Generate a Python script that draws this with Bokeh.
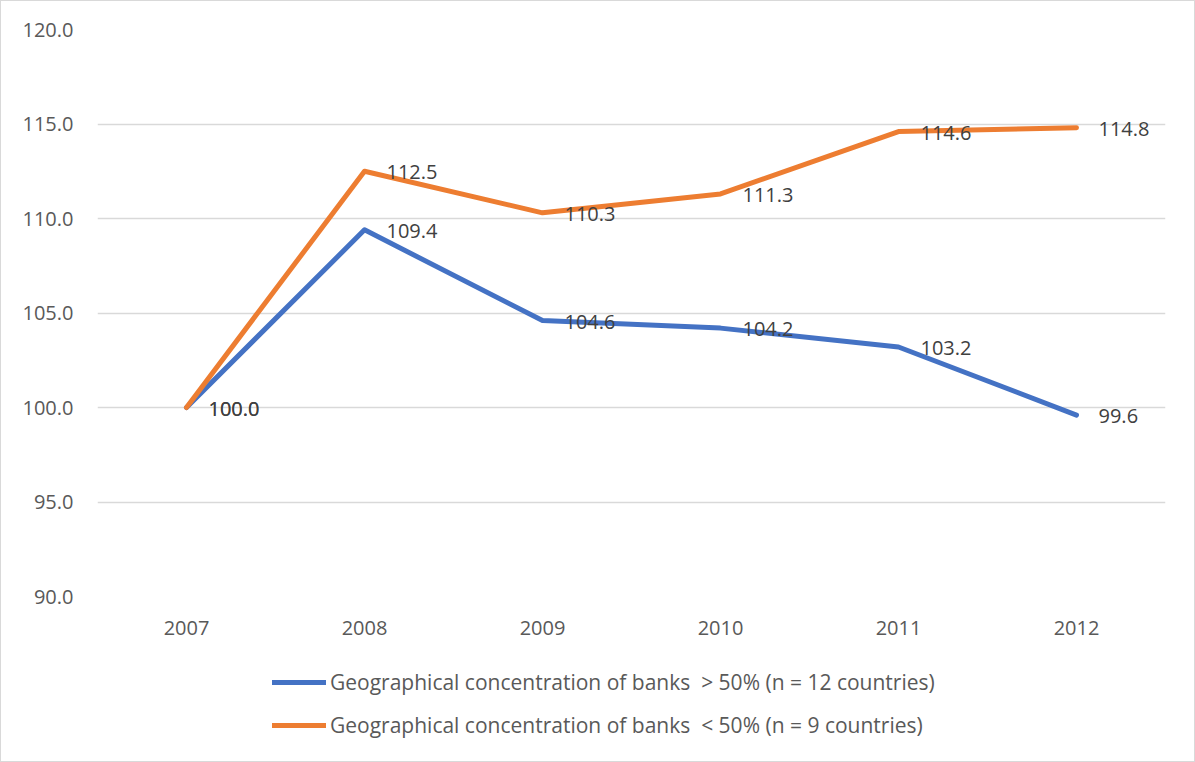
from bokeh.plotting import figure
from bokeh.layouts import column
from bokeh.models import (ColumnDataSource, FactorRange, Range1d, Legend, LegendItem,
                          SingleIntervalTicker, NumeralTickFormatter)
from bokeh.embed import file_html
from bokeh.resources import INLINE

years = ["2007", "2008", "2009", "2010", "2011", "2012"]
high_conc = [100.0, 109.4, 104.6, 104.2, 103.2, 99.6]
low_conc = [100.0, 112.5, 110.3, 111.3, 114.6, 114.8]
series_names = [
    "Geographical concentration of banks  > 50% (n = 12 countries)",
    "Geographical concentration of banks  < 50% (n = 9 countries)",
]
colors = ["#4472C4", "#ED7D31"]

FONT = "Open Sans"

# main chart
p = figure(
    width=1193, height=646,
    x_range=FactorRange(factors=years, range_padding=0),
    y_range=Range1d(90, 120),
    output_backend="svg", toolbar_location=None,
    min_border_left=96, min_border_right=29, min_border_top=28, min_border_bottom=51,
)
p.outline_line_color = None
p.background_fill_color = "white"
p.border_fill_color = "white"

p.xgrid.grid_line_color = None
p.ygrid.grid_line_color = "#D9D9D9"
p.ygrid.grid_line_width = 1.3

p.yaxis.ticker = SingleIntervalTicker(interval=5)
p.yaxis.formatter = NumeralTickFormatter(format="0.0")
for ax in (p.xaxis[0], p.yaxis[0]):
    ax.axis_line_color = None
    ax.major_tick_line_color = None
    ax.minor_tick_line_color = None
    ax.major_label_text_font = FONT
    ax.major_label_text_font_size = "20px"
    ax.major_label_text_color = "#595959"
p.yaxis.major_label_standoff = 18
p.xaxis.major_label_standoff = 18

for vals, col in zip([high_conc, low_conc], colors):
    src = ColumnDataSource(dict(x=years, y=vals))
    p.line("x", "y", source=src, line_color=col, line_width=5, line_cap="round", line_join="round")

for vals in [high_conc, low_conc]:
    src = ColumnDataSource(dict(x=years, y=vals, lbl=[f"{v:.1f}" for v in vals]))
    p.text("x", "y", text="lbl", source=src, x_offset=22, y_offset=1,
           text_align="left", text_baseline="middle",
           text_font_size="20px", text_color="#404040", text_font={"value": FONT})

# legend strip underneath (its frame lines up with the chart's frame)
lg = figure(
    width=1193, height=114,
    x_range=Range1d(0, 1), y_range=Range1d(0, 1),
    x_axis_type=None, y_axis_type=None,
    output_backend="svg", toolbar_location=None,
    min_border_left=96, min_border_right=29, min_border_top=0, min_border_bottom=0,
)
lg.outline_line_color = None
lg.xgrid.visible = False
lg.ygrid.visible = False

items = []
for name, col in zip(series_names, colors):
    src = ColumnDataSource(dict(x=[float("nan")], y=[float("nan")]))
    r = lg.line("x", "y", source=src, line_color=col, line_width=5, line_cap="round")
    items.append(LegendItem(label=name, renderers=[r]))

legend = Legend(
    items=items, location=(175, 22), orientation="vertical",
    glyph_width=54, glyph_height=20, label_height=20, spacing=15,
    label_standoff=4, padding=0, margin=0,
    label_text_font=FONT, label_text_font_size="21px", label_text_color="#595959",
    border_line_color=None, background_fill_alpha=0,
)
lg.add_layout(legend, "center")

page = column(p, lg, spacing=0, styles={"border": "1px solid #D9D9D9", "background": "white"})

open("out.html", "w").write(file_html(page, INLINE))
